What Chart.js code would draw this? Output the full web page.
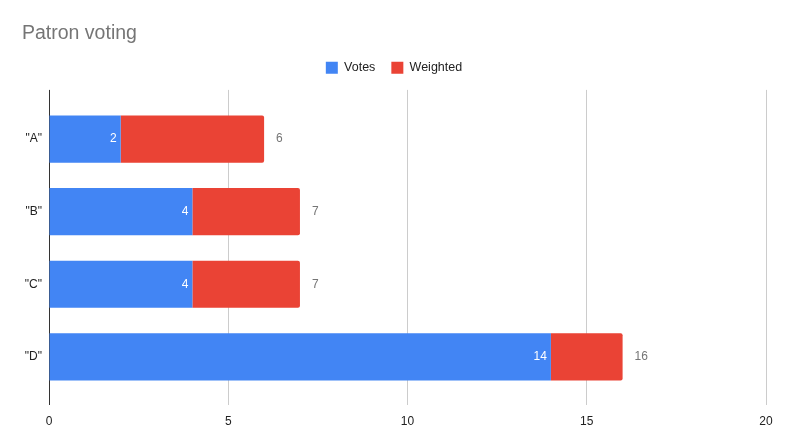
<!DOCTYPE html>
<html>
<head>
<meta charset="utf-8">
<script src="https://cdn.jsdelivr.net/npm/chart.js@4"></script>
<style>
html,body{margin:0;padding:0;background:#fff;}
#wrap{width:789px;height:448px;position:relative;}
</style>
</head>
<body>
<div id="wrap"><canvas id="c" width="789" height="448"></canvas></div>
<script>
const categories = ['"A"', '"B"', '"C"', '"D"'];
const votes = [2, 4, 4, 14];
const weightedExtra = [4, 3, 3, 2];
const totals = [6, 7, 7, 16];
const xTicks = [0, 5, 10, 15, 20];

const FONT = "Arial, 'Liberation Sans', sans-serif";

const labelPlugin = {
  id: 'valueLabels',
  afterDatasetsDraw(chart) {
    const ctx = chart.ctx;
    ctx.save();
    ctx.font = '12px ' + FONT;
    ctx.textBaseline = 'middle';
    const m0 = chart.getDatasetMeta(0);
    const m1 = chart.getDatasetMeta(1);
    m0.data.forEach((el, i) => {
      ctx.fillStyle = '#ffffff';
      ctx.textAlign = 'right';
      ctx.fillText(String(votes[i]), el.x - 4, el.y);
    });
    m1.data.forEach((el, i) => {
      ctx.fillStyle = '#757575';
      ctx.textAlign = 'left';
      ctx.fillText(String(totals[i]), el.x + 12, el.y);
    });
    ctx.restore();
  }
};

const legendSpacer = {
  id: 'legendSpacer',
  afterInit(chart) {
    const lg = chart.legend;
    if (!lg) return;
    const orig = lg.fit.bind(lg);
    lg.fit = function () { orig(); this.height += 6; };
  }
};

new Chart(document.getElementById('c'), {
  type: 'bar',
  data: {
    datasets: [
      {
        label: 'Votes',
        data: votes.map((v, i) => ({ x: v, y: i })),
        backgroundColor: '#4285F4',
        borderWidth: 0
      },
      {
        label: 'Weighted',
        data: weightedExtra.map((v, i) => ({ x: v, y: i })),
        backgroundColor: '#EA4335',
        borderWidth: 0,
        borderRadius: { topRight: 2, bottomRight: 2 },
        borderSkipped: 'start'
      }
    ]
  },
  options: {
    indexAxis: 'y',
    responsive: false,
    animation: false,
    devicePixelRatio: 1,
    layout: { padding: { left: 22, right: 23, top: 0, bottom: 0 } },
    datasets: { bar: { categoryPercentage: 1, barPercentage: 0.65 } },
    plugins: {
      tooltip: { enabled: false },
      title: {
        display: true,
        text: 'Patron voting',
        align: 'start',
        color: '#757575',
        font: { family: FONT, size: 19.5, weight: 'normal' },
        padding: { top: 22, bottom: 0 }
      },
      legend: {
        display: true,
        position: 'top',
        labels: {
          boxWidth: 12,
          boxHeight: 12,
          padding: 16,
          color: '#222222',
          font: { family: FONT, size: 12.5 }
        }
      }
    },
    scales: {
      x: {
        type: 'linear',
        stacked: true,
        min: 0,
        max: 20,
        afterBuildTicks(scale) { scale.ticks = xTicks.map(v => ({ value: v })); },
        afterFit(scale) { scale.height = 43; },
        border: { display: false },
        grid: {
          drawTicks: false,
          color: ctx => (ctx.tick && ctx.tick.value === 0) ? '#333333' : '#cccccc',
          lineWidth: 1
        },
        ticks: {
          color: '#222222',
          font: { family: FONT, size: 12 },
          padding: 9,
          maxRotation: 0
        }
      },
      y: {
        type: 'linear',
        stacked: true,
        reverse: true,
        offset: false,
        min: -0.677,
        max: 3.663,
        afterBuildTicks(scale) { scale.ticks = categories.map((c, i) => ({ value: i })); },
        afterFit(scale) { scale.width = 27; },
        border: { display: false },
        grid: { display: false, drawTicks: false, offset: false },
        ticks: {
          color: '#222222',
          font: { family: FONT, size: 12 },
          padding: 7,
          callback: v => categories[v] !== undefined ? categories[v] : ''
        }
      }
    }
  },
  plugins: [labelPlugin, legendSpacer]
});
</script>
</body>
</html>
